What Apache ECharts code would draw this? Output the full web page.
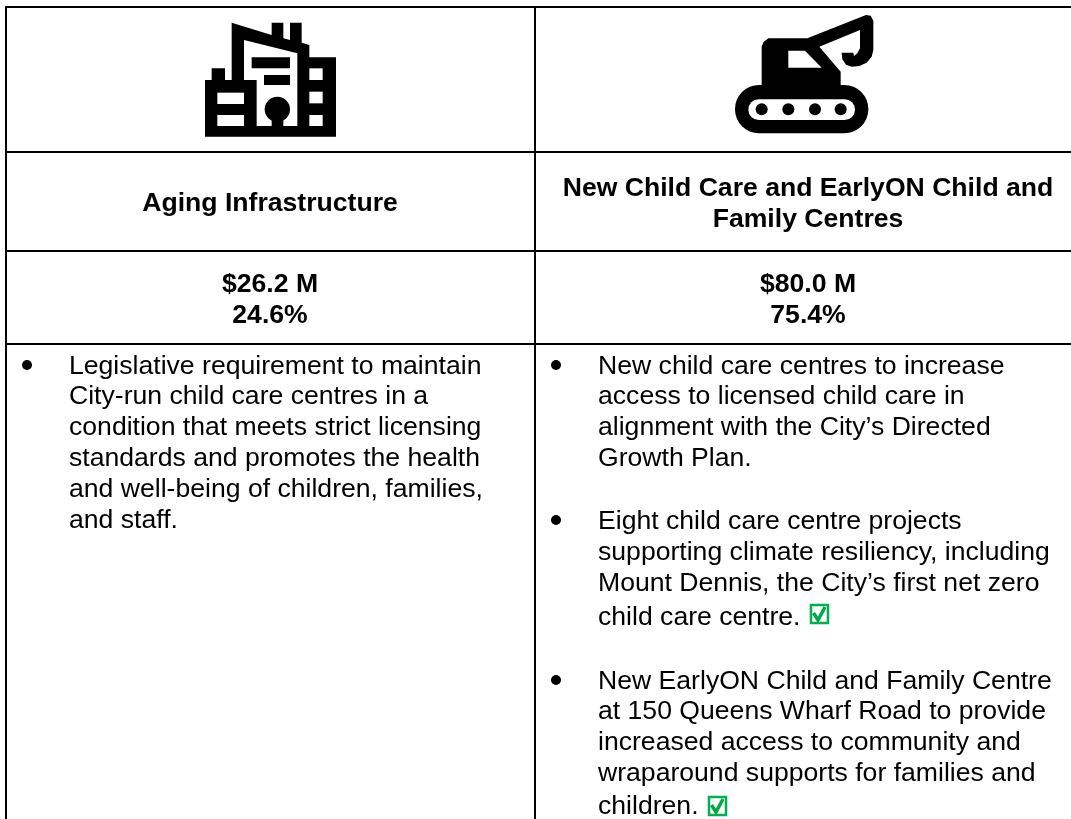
<!DOCTYPE html>
<html>
<head>
<meta charset="utf-8">
<title>Child care capital table</title>
<style>
  html, body { margin: 0; padding: 0; background: #fff; }
  #main { width: 1071px; height: 819px; }
</style>
<script src="https://cdn.jsdelivr.net/npm/echarts@6/dist/echarts.min.js"></script>
</head>
<body>
<div id="main"></div>
<script>
var categories = [
  ['Aging Infrastructure'],
  ['New Child Care and EarlyON Child and', 'Family Centres']
];
var amounts = ['$26.2 M', '$80.0 M'];
var shares = ['24.6%', '75.4%'];
var leftBullets = [
  ['Legislative requirement to maintain', 'City-run child care centres in a', 'condition that meets strict licensing', 'standards and promotes the health', 'and well-being of children, families,', 'and staff.']
];
var rightBullets = [
  ['New child care centres to increase', 'access to licensed child care in', 'alignment with the City\u2019s Directed', 'Growth Plan.'],
  ['Eight child care centre projects', 'supporting climate resiliency, including', 'Mount Dennis, the City\u2019s first net zero', 'child care centre.'],
  ['New EarlyON Child and Family Centre', 'at 150 Queens Wharf Road to provide', 'increased access to community and', 'wraparound supports for families and', 'children.']
];

var FONT = '"Liberation Sans", Arial, sans-serif';
var BODY_SIZE = 26.6;
var GREEN = '#00b050';
var TEXT_NUDGE = 1.5;

// table rules
var colX = [6, 535];
var rowY = [7, 152, 251, 344];
var centers = [270, 808];

var els = [];

function hline(y) {
  els.push({ type: 'line', shape: { x1: colX[0] - 1, y1: y, x2: 1071, y2: y }, style: { stroke: '#000', lineWidth: 2 } });
}
function vline(x) {
  els.push({ type: 'line', shape: { x1: x, y1: rowY[0] - 1, x2: x, y2: 819 }, style: { stroke: '#000', lineWidth: 2 } });
}
function label(txt, x, y, bold, align) {
  els.push({
    type: 'text', x: x, y: y + TEXT_NUDGE,
    style: {
      text: txt, x: 0, y: 0, fill: '#000', font: (bold ? 'bold ' : '') + BODY_SIZE + 'px ' + FONT,
      textAlign: align || 'left', textVerticalAlign: 'middle'
    }
  });
}
function bullet(x, y) {
  els.push({ type: 'circle', shape: { cx: x, cy: y, r: 5 }, style: { fill: '#000' } });
}
function checkbox(x, y) {
  els.push({ type: 'rect', shape: { x: x + 1, y: y + 1, width: 17, height: 18 }, style: { fill: '#fff', stroke: GREEN, lineWidth: 2.5 } });
  els.push({ type: 'polyline', shape: { points: [[x + 3.5, y + 9], [x + 8, y + 16], [x + 15, y + 3]] }, style: { fill: 'none', stroke: '#00a848', lineWidth: 3.5 } });
}

rowY.forEach(hline);
colX.forEach(vline);

// building icon, points measured in a 3x crop
function buildingIcon() {
  var black = { fill: '#000' }, white = { fill: '#fff' };
  var kids = [];
  kids.push({ type: 'polygon', shape: { points: [[45, 240], [65, 240], [65, 205], [105, 205], [105, 240], [125, 240], [125, 68], [245, 105], [245, 68], [280, 68], [280, 115], [300, 120], [300, 68], [335, 68], [335, 128], [358, 135], [358, 172], [438, 172], [438, 410], [45, 410]] }, style: black });
  [[82, 278, 80, 34], [82, 345, 80, 33], [358, 205, 40, 35], [358, 275, 40, 35], [358, 345, 40, 33]].forEach(function (r) {
    kids.push({ type: 'rect', shape: { x: r[0], y: r[1], width: r[2], height: r[3] }, style: white });
  });
  kids.push({ type: 'polygon', shape: { points: [[162, 120], [322, 160], [322, 378], [200, 378], [200, 240], [162, 240]] }, style: white });
  [[185, 172, 115, 33], [222, 225, 78, 30], [245, 340, 35, 45]].forEach(function (r) {
    kids.push({ type: 'rect', shape: { x: r[0], y: r[1], width: r[2], height: r[3] }, style: black });
  });
  kids.push({ type: 'circle', shape: { cx: 262, cy: 328, r: 38 }, style: black });
  els.push({ type: 'group', x: 190, y: 0, scaleX: 1 / 3, scaleY: 1 / 3, children: kids });
}

// excavator icon, same crop scale
function excavatorIcon() {
  var black = { fill: '#000' }, white = { fill: '#fff' };
  var kids = [];
  kids.push({ type: 'rect', shape: { x: 45, y: 255, width: 400, height: 145, r: 72 }, style: black });
  kids.push({ type: 'rect', shape: { x: 85, y: 298, width: 320, height: 62, r: 31 }, style: white });
  [125, 205, 285, 362].forEach(function (cx) {
    kids.push({ type: 'circle', shape: { cx: cx, cy: 328, r: 18 }, style: black });
  });
  kids.push({ type: 'polygon', shape: { points: [[125, 262], [125, 140], [130, 127], [145, 115], [262, 115], [438, 45], [452, 47], [460, 62], [460, 150], [455, 170], [440, 188], [418, 198], [395, 200], [378, 194], [367, 178], [365, 158], [400, 158], [402, 168], [412, 160], [420, 145], [420, 90], [298, 140], [362, 215], [362, 262]] }, style: black });
  kids.push({ type: 'polygon', shape: { points: [[205, 152], [255, 152], [305, 203], [205, 203]] }, style: white });
  els.push({ type: 'group', x: 720, y: 0, scaleX: 1 / 3, scaleY: 1 / 3, children: kids });
}

buildingIcon();
excavatorIcon();

// headers
label(categories[0][0], centers[0], 202, true, 'center');
label(categories[1][0], centers[1], 187, true, 'center');
label(categories[1][1], centers[1], 218, true, 'center');

// amounts and shares
[0, 1].forEach(function (i) {
  label(amounts[i], centers[i], 283, true, 'center');
  label(shares[i], centers[i], 314, true, 'center');
});

// left cell
var leftLineY = [365, 395.5, 426, 457, 488, 519];
bullet(27, 365);
leftBullets[0].forEach(function (t, i) { label(t, 69, leftLineY[i]); });

// right cell
var rightLineY = [
  [365, 395.5, 426, 457],
  [520, 551, 582, 616],
  [680, 710, 741, 772, 805]
];
rightBullets.forEach(function (lines, b) {
  bullet(556, rightLineY[b][0]);
  lines.forEach(function (t, i) { label(t, 598, rightLineY[b][i]); });
});
checkbox(810, 604);
checkbox(708, 796);

var chart = echarts.init(document.getElementById('main'), null, { renderer: 'canvas' });
chart.setOption({
  backgroundColor: '#fff',
  animation: false,
  graphic: { elements: els }
});
</script>
</body>
</html>
